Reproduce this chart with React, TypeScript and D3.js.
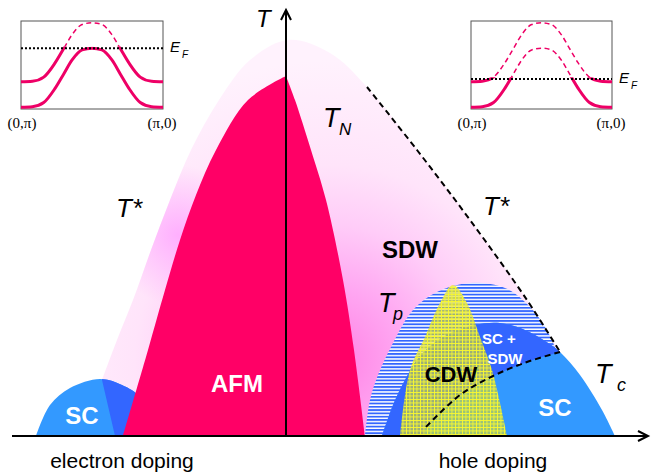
import React from 'react';
import * as d3 from 'd3';

type P = [number, number]; // [doping, temperature]

// ---------- main phase diagram data (doping, T) ----------
const afmLeft: P[] = [[-0.163, 0], [-0.138, 86], [-0.121, 146], [-0.106, 196], [-0.09, 241], [-0.07, 286], [-0.038, 336], [0, 360]];
const afmRight: P[] = [[0, 360], [0.009, 336], [0.025, 286], [0.04, 236], [0.057, 156], [0.068, 86], [0.079, 0]];
const tStarBase: P = [-0.171, 0];
const tStarOuter: P[] = [[-0.184, 56], [-0.169, 96], [-0.153, 136], [-0.135, 186], [-0.116, 236], [-0.095, 286], [-0.067, 336], [-0.036, 376], [0.002, 396], [0.044, 383], [0.081, 349], [0.131, 286], [0.184, 216], [0.241, 136], [0.274, 84]];
const sdwBoundary: P[] = [[0.274, 84], [0.241, 74], [0.207, 60], [0.174, 41], [0.139, 8]];
const tpDome: P[] = [[0.079, 0], [0.084, 36], [0.092, 61], [0.106, 91], [0.127, 126], [0.151, 144], [0.184, 153], [0.219, 148], [0.239, 134], [0.256, 114], [0.27, 86], [0.28, 46], [0.284, 0]];
const scHole: P[] = [[0.096, 0], [0.107, 31], [0.119, 56], [0.134, 80], [0.159, 100], [0.189, 111], [0.214, 113], [0.239, 106], [0.259, 95], [0.274, 84], [0.294, 61], [0.316, 26], [0.329, 0]];
const scElectron: P[] = [[-0.25, 0], [-0.236, 31], [-0.216, 48], [-0.186, 57], [-0.164, 51], [-0.146, 39], [-0.136, 16], [-0.131, 0]];
const cdwDome: P[] = [[0.114, 0], [0.124, 66], [0.139, 99], [0.154, 133], [0.167, 151], [0.181, 133], [0.194, 99], [0.206, 66], [0.214, 33], [0.221, 0]];

// ---------- inset band data ----------
const bandK = [0, 0.08, 0.16, 0.24, 0.3, 0.36, 0.43, 0.5, 0.57, 0.64, 0.7, 0.76, 0.84, 0.92, 1];
const bandShape = [0, 0.01, 0.08, 0.32, 0.56, 0.8, 0.97, 1, 0.97, 0.8, 0.56, 0.32, 0.08, 0.01, 0];
const bandOffsets = [0, 0.43];
const fermiLevels = [1.0, 0.48]; // electron side inset, hole side inset
const insetLabels = ['(0,π)', '(π,0)'];

const W = 652, H = 472;
const x = d3.scaleLinear().domain([-0.274, 0.364]).range([12, 650]);
const y = d3.scaleLinear().domain([0, 426]).range([436, 10]);

const curve = d3.line<P>().x(d => x(d[0])).y(d => y(d[1])).curve(d3.curveCatmullRom.alpha(0.5));
const join = (a: string, b: string) => a + b.replace(/^M/, 'L');

const afmPath = join(curve(afmLeft) as string, curve(afmRight) as string) + 'Z';
const tStarPath =
  `M${x(tStarBase[0])},${y(tStarBase[1])}` +
  join('', join(curve(tStarOuter) as string, curve(sdwBoundary) as string)).replace(/^M/, 'L') +
  `L${x(0.139)},${y(0)}Z`;
const tpPath = (curve(tpDome) as string) + 'Z';
const scHolePath = (curve(scHole) as string) + 'Z';
const scElPath = (curve(scElectron) as string) + 'Z';
const cdwPath = (curve(cdwDome) as string) + 'Z';
const tStarDashed = curve(tStarOuter.filter(d => d[0] >= 0.081)) as string;
const sdwDashed = curve(sdwBoundary) as string;

const SANS = '"Liberation Sans", Arial, sans-serif';
const SERIF = '"Liberation Serif", "Times New Roman", serif';
const BAND = '#EE0066';

function Inset({ idx, x0, x1 }: { idx: number; x0: number; x1: number }) {
  const ix = d3.scaleLinear().domain([0, 1]).range([x0, x1]);
  const iy = d3.scaleLinear().domain([-0.03, 1.46]).range([109, 21]);
  const ef = iy(fermiLevels[idx]);
  const line = d3.line<number>().x((_, i) => ix(bandK[i])).y(v => iy(v)).curve(d3.curveMonotoneX);
  const cut = ef - 1.6;
  return (
    <g>
      <defs>
        <clipPath id={`below${idx}`}><rect x={x0 - 2} y={cut} width={x1 - x0 + 4} height={120 - cut} /></clipPath>
        <clipPath id={`above${idx}`}><rect x={x0 - 2} y={10} width={x1 - x0 + 4} height={cut - 10} /></clipPath>
      </defs>
      <rect x={x0} y={iy(1.46)} width={x1 - x0} height={iy(-0.03) - iy(1.46)} fill="white" stroke="#555" strokeWidth={1} />
      {bandOffsets.map((o, j) => {
        const d = line(bandShape.map(v => v + o)) as string;
        return (
          <g key={j}>
            <path d={d} fill="none" stroke={BAND} strokeWidth={3} clipPath={`url(#below${idx})`} />
            <path d={d} fill="none" stroke={BAND} strokeWidth={1.5} strokeDasharray="5,3.5" clipPath={`url(#above${idx})`} />
          </g>
        );
      })}
      <line x1={x0} x2={x1} y1={ef} y2={ef} stroke="black" strokeWidth={2} strokeDasharray="2,2" />
      <text x={x1 + 7} y={ef + 4} fontFamily={SANS} fontStyle="italic" fontSize={15}>E</text>
      <text x={x1 + 19} y={ef + 10} fontFamily={SANS} fontStyle="italic" fontSize={10}>F</text>
      <text x={x0 + 1} y={128} textAnchor="middle" fontFamily={SERIF} fontSize={15}>{insetLabels[0]}</text>
      <text x={x1 - 1} y={128} textAnchor="middle" fontFamily={SERIF} fontSize={15}>{insetLabels[1]}</text>
    </g>
  );
}

export default function App() {
  const x0 = x(0);
  return (
    <svg width={W} height={H} style={{ position: 'absolute', left: 0, top: 0, background: 'white' }}>
      <defs>
        <radialGradient id="pinkGrad" gradientUnits="userSpaceOnUse" cx={330} cy={360} r={300}>
          <stop offset="0" stopColor="#FF80E4" />
          <stop offset="0.25" stopColor="#FFA8F2" />
          <stop offset="0.45" stopColor="#FFCCF8" />
          <stop offset="0.65" stopColor="#FFE4FA" />
          <stop offset="1" stopColor="#FFF2FD" />
        </radialGradient>
        <radialGradient id="glow" gradientUnits="userSpaceOnUse" cx={178} cy={235} r={70}>
          <stop offset="0" stopColor="#FFA6FF" stopOpacity={0.85} />
          <stop offset="1" stopColor="#FFA6FF" stopOpacity={0} />
        </radialGradient>
        <pattern id="stripes" patternUnits="userSpaceOnUse" width={6} height={3.3}>
          <rect width={6} height={3.3} fill="white" />
          <rect width={6} height={1.8} fill="#3366FF" />
        </pattern>
        <pattern id="grid" patternUnits="userSpaceOnUse" width={3.5} height={3.5}>
          <rect width={3.5} height={3.5} fill="#E0E020" fillOpacity={0.6} />
          <rect width={3.5} height={0.9} fill="#F8F830" />
          <rect width={0.9} height={3.5} fill="#F8F830" />
        </pattern>
        <clipPath id="tStarClip"><path d={tStarPath} /></clipPath>
      </defs>

      {/* pseudogap / SDW region */}
      <path d={tStarPath} fill="url(#pinkGrad)" />
      <circle cx={178} cy={235} r={70} fill="url(#glow)" clipPath="url(#tStarClip)" />

      {/* electron-side SC */}
      <path d={scElPath} fill="#3399FF" />
      <path d={scElPath} fill="#3366FF" clipPath="url(#tStarClip)" />

      {/* AFM */}
      <path d={afmPath} fill="#FF0066" />

      {/* Tp striped dome */}
      <path d={tpPath} fill="url(#stripes)" />

      {/* hole-side SC */}
      <path d={scHolePath} fill="#3399FF" />
      <path d={scHolePath} fill="#3366FF" clipPath="url(#tStarClip)" />

      {/* CDW */}
      <path d={cdwPath} fill="url(#grid)" />

      {/* dashed lines */}
      <path d={tStarDashed} fill="none" stroke="black" strokeWidth={2} strokeDasharray="6,4" />
      <path d={sdwDashed} fill="none" stroke="black" strokeWidth={2} strokeDasharray="6,4" />

      {/* axes */}
      <line x1={x(-0.274)} x2={x(0.362)} y1={y(0)} y2={y(0)} stroke="black" strokeWidth={2} />
      <polyline points={`${x(0.362) - 10},${y(0) - 5} ${x(0.362)},${y(0)} ${x(0.362) - 10},${y(0) + 5}`} fill="none" stroke="black" strokeWidth={2} />
      <line x1={x0} x2={x0} y1={y(0)} y2={y(426)} stroke="black" strokeWidth={2} />
      <polyline points={`${x0 - 5},${y(426) + 10} ${x0},${y(426)} ${x0 + 5},${y(426) + 10}`} fill="none" stroke="black" strokeWidth={2} />

      {/* italic labels */}
      <g fontFamily={SANS} fontStyle="italic" fill="black">
        <text x={256} y={27} fontSize={24}>T</text>
        <text x={323} y={127} fontSize={27}>T</text>
        <text x={339} y={135} fontSize={17}>N</text>
        <text x={116} y={217} fontSize={26}>T*</text>
        <text x={483} y={215} fontSize={26}>T*</text>
        <text x={378} y={312} fontSize={27}>T</text>
        <text x={393} y={320} fontSize={18}>p</text>
        <text x={595} y={383} fontSize={27}>T</text>
        <text x={617} y={391} fontSize={18}>c</text>
      </g>

      {/* bold region labels */}
      <g fontFamily={SANS} fontWeight="bold" textAnchor="middle">
        <text x={237} y={392} fontSize={24} fill="white">AFM</text>
        <text x={82} y={424} fontSize={24} fill="white">SC</text>
        <text x={410} y={258} fontSize={24} fill="black">SDW</text>
        <text x={451} y={382} fontSize={22} fill="black">CDW</text>
        <text x={499} y={344} fontSize={15} fill="white">SC +</text>
        <text x={505} y={364} fontSize={15} fill="white">SDW</text>
        <text x={555} y={416} fontSize={24} fill="white">SC</text>
      </g>

      <g fontFamily={SANS} fontSize={21} textAnchor="middle">
        <text x={122} y={468}>electron doping</text>
        <text x={493} y={468}>hole doping</text>
      </g>

      <Inset idx={0} x0={21} x1={163} />
      <Inset idx={1} x0={471} x1={612} />
    </svg>
  );
}
